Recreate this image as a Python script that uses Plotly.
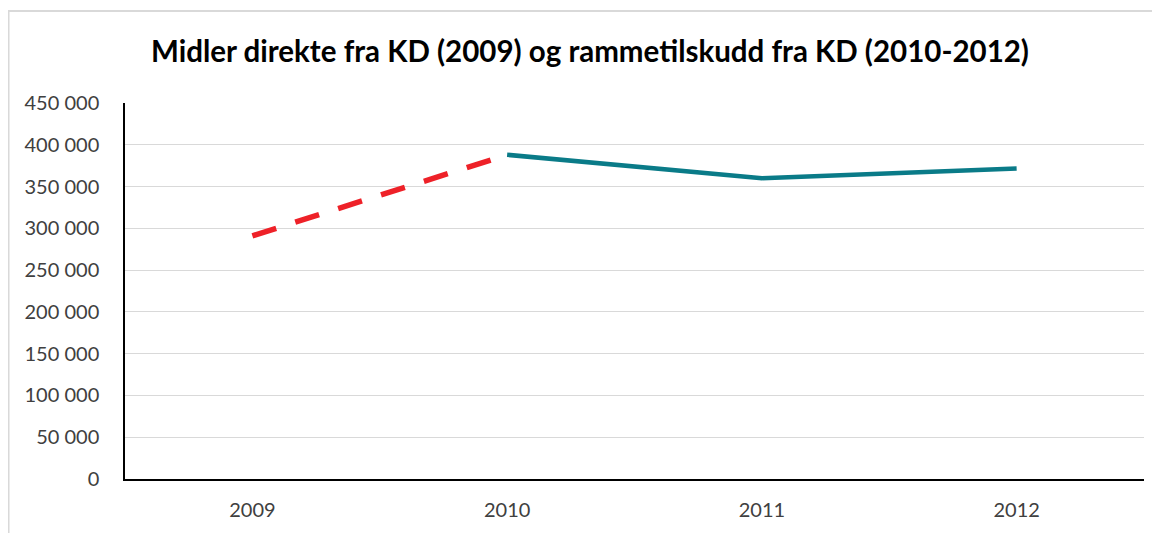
import plotly.graph_objects as go

# data
years = ["2009", "2010", "2011", "2012"]
kd_direct_years = ["2009", "2010"]
kd_direct = [291000, 388000]
ramme_years = ["2010", "2011", "2012"]
ramme = [388000, 360000, 371500]
y_ticks = [0, 50000, 100000, 150000, 200000, 250000, 300000, 350000, 400000, 450000]
y_labels = ["0", "50 000", "100 000", "150 000", "200 000", "250 000",
            "300 000", "350 000", "400 000", "450 000"]

fig = go.Figure()

fig.add_trace(go.Scatter(
    x=kd_direct_years, y=kd_direct, mode="lines",
    line=dict(color="#ee2128", width=5.5, dash="25px,20px"),
    showlegend=False, hoverinfo="x+y",
))
fig.add_trace(go.Scatter(
    x=ramme_years, y=ramme, mode="lines",
    line=dict(color="#0a7b88", width=4.5),
    showlegend=False, hoverinfo="x+y",
))

# ramme rundt diagrammet (siden har 8px marg)
fig.add_shape(type="rect", xref="paper", yref="paper",
              x0=-0.1143, x1=1.05, y0=-0.2, y1=1.2447,
              line=dict(color="#d9d9d9", width=2), layer="below")

fig.update_layout(
    width=1152, height=525,
    margin=dict(l=117, r=16, t=95, b=54),
    paper_bgcolor="white", plot_bgcolor="white",
    font=dict(family="Lato, 'Open Sans', sans-serif", size=20, color="#404040"),
    title=dict(
        text="<b>Midler direkte fra KD (2009) og rammetilskudd fra KD (2010-2012)</b>",
        x=0.5052, xref="container", xanchor="center",
        y=0.9162, yref="container", yanchor="middle",
        font=dict(size=29.5, color="#000000", family="Lato, 'Open Sans', sans-serif"),
    ),
    xaxis=dict(
        type="category", categoryorder="array", categoryarray=years,
        range=[-0.5, 3.5], showgrid=False, zeroline=False,
        showline=True, linecolor="#000000", linewidth=1.5,
        ticks="", tickfont=dict(size=20, color="#404040"),
        ticklabelstandoff=12,
    ),
    yaxis=dict(
        range=[0, 450000], tickvals=y_ticks, ticktext=y_labels,
        showgrid=True, gridcolor="#d9d9d9", gridwidth=1,
        zeroline=False, showline=True, linecolor="#000000", linewidth=1.5,
        ticks="", tickfont=dict(size=20, color="#404040"),
        ticklabelstandoff=20,
    ),
)

fig.write_html("out.html")
